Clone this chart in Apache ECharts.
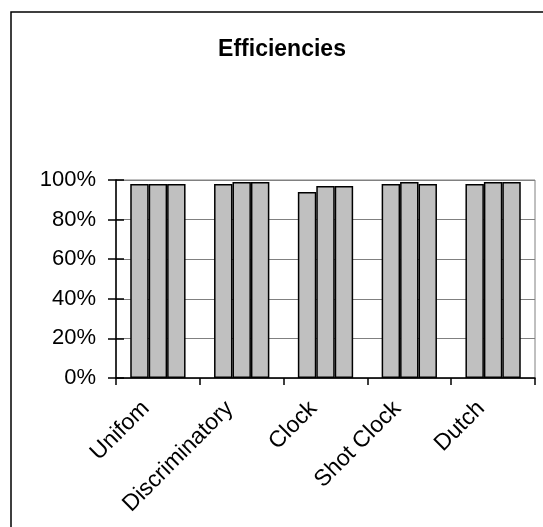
<!DOCTYPE html>
<html>
<head>
<meta charset="utf-8">
<script src="https://cdn.jsdelivr.net/npm/echarts@6/dist/echarts.min.js"></script>
<style>
  html, body { margin: 0; padding: 0; background: #fff; }
  #chart { width: 543px; height: 527px; }
</style>
</head>
<body>
<div id="chart"></div>
<script>
// Auction formats on the category axis
const categories = ['Unifom', 'Discriminatory', 'Clock', 'Shot Clock', 'Dutch'];
// Efficiency (%) of the three runs for each format
const seriesA = [98, 98, 94, 98, 98];
const seriesB = [98, 99, 97, 99, 99];
const seriesC = [98, 99, 97, 98, 99];
const yTicks = [0, 20, 40, 60, 80, 100];

const barStyle = { color: '#C0C0C0', borderColor: '#000', borderWidth: 1.5 };
const mkSeries = (data) => ({
  type: 'bar', data: data, barGap: '0%', barCategoryGap: '34%',
  itemStyle: barStyle, silent: true
});

const chart = echarts.init(document.getElementById('chart'), null, { renderer: 'canvas' });
chart.setOption({
  animation: false,
  backgroundColor: '#fff',
  title: {
    text: 'Efficiencies', left: 277, top: 33, textAlign: 'center',
    textStyle: { fontFamily: 'Liberation Sans', fontWeight: 'bold', fontSize: 23, color: '#000' }
  },
  graphic: [{
    type: 'rect', shape: { x: 11, y: 12, width: 600, height: 600 },
    style: { fill: null, stroke: '#000', lineWidth: 1.5 }, silent: true, z: -1
  }],
  grid: { left: 116, right: 8, top: 180, bottom: 149, show: true, borderColor: '#808080', borderWidth: 1 },
  xAxis: {
    type: 'category', data: categories,
    axisLine: { lineStyle: { color: '#000', width: 1.5 } },
    axisTick: { show: true, length: 7, lineStyle: { color: '#000', width: 1.5 } },
    axisLabel: {
      rotate: 45, fontFamily: 'Liberation Sans', fontSize: 23, color: '#000', margin: 15,
      padding: [0, 17, 0, 0], interval: 0
    }
  },
  yAxis: [{
    type: 'value', min: yTicks[0], max: yTicks[yTicks.length - 1], interval: 20,
    axisLine: { show: true, lineStyle: { color: '#000', width: 1.5 } },
    axisTick: { show: true, length: 8, lineStyle: { color: '#000', width: 1.5 } },
    axisLabel: { formatter: '{value}%', fontFamily: 'Liberation Sans', fontSize: 22, color: '#000', margin: 20 },
    splitLine: { show: true, lineStyle: { color: '#808080', width: 1 } }
  }, {
    // inner half of the crossing tick marks
    type: 'value', position: 'left', min: 0, max: 100, interval: 20,
    axisLine: { show: false },
    axisTick: { show: true, inside: true, length: 8, lineStyle: { color: '#000', width: 1.5 } },
    axisLabel: { show: false }, splitLine: { show: false }
  }],
  series: [mkSeries(seriesA), mkSeries(seriesB), mkSeries(seriesC)]
});
</script>
</body>
</html>
